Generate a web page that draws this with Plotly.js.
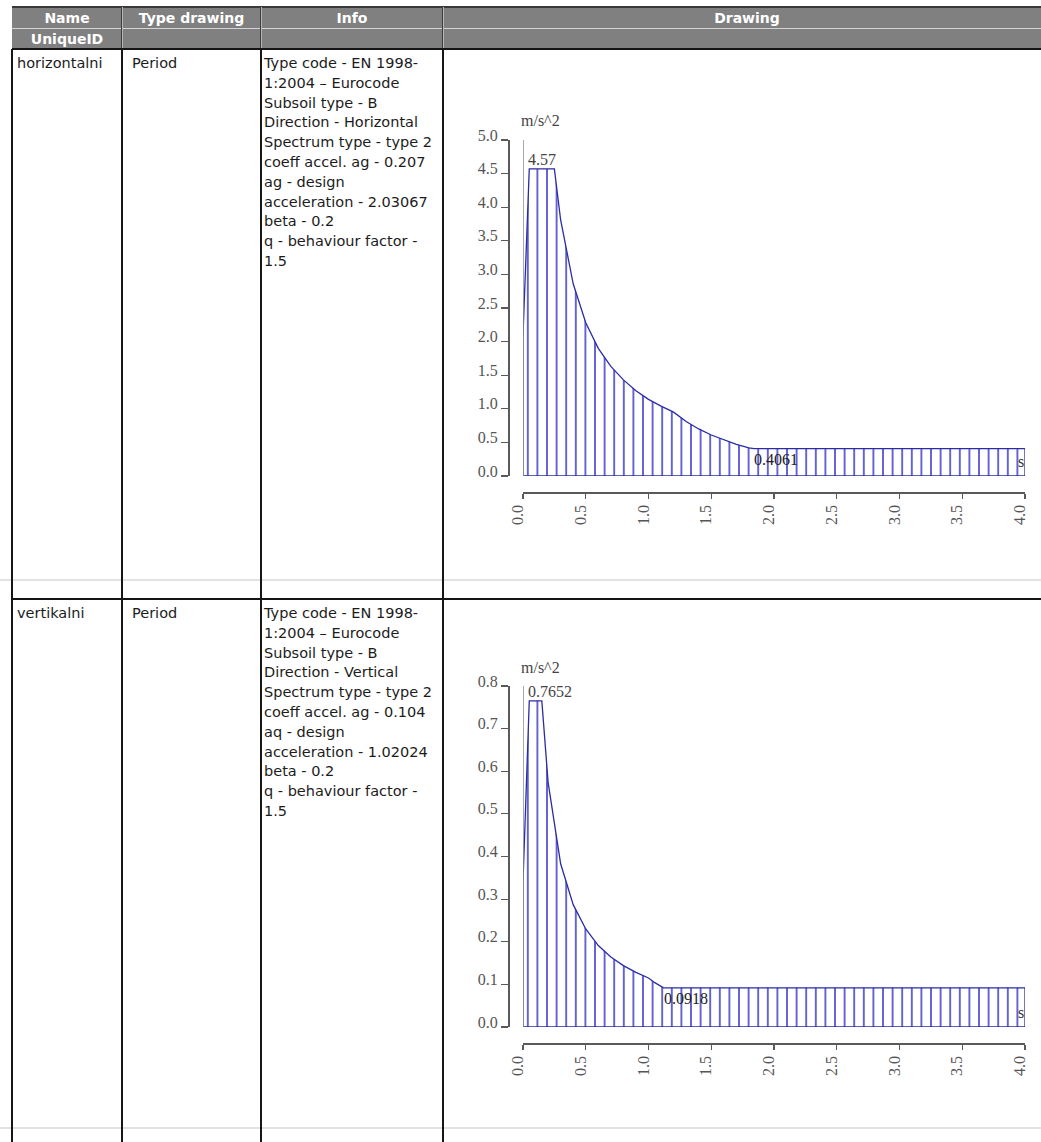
<!DOCTYPE html>
<html>
<head>
<meta charset="utf-8">
<script src="https://cdn.plot.ly/plotly-3.0.1.min.js"></script>
<style>
html,body{margin:0;padding:0;background:#fff;}
#page{position:relative;width:1041px;height:1142px;overflow:hidden;background:#fff;font-family:"DejaVu Sans",Verdana,sans-serif;}
.ln{position:absolute;}
.txt{position:absolute;white-space:nowrap;font-size:14.5px;line-height:20px;color:#1c1c1c;}
.hd{position:absolute;white-space:nowrap;font-size:14px;font-weight:bold;color:#fff;text-align:center;line-height:21px;}
#chart{position:absolute;left:0;top:0;width:1041px;height:1142px;}
</style>
</head>
<body>
<div id="page"><div id="chart"></div></div>
<script>
// ---------------- data ----------------
const headerTop = ["Name", "Type drawing", "Info", "Drawing"];
const headerSub = ["UniqueID", "", "", ""];
const rowNames = ["horizontalni", "vertikalni"];
const rowTypes = ["Period", "Period"];
const infoHorizontal = [
  "Type code - EN 1998-", "1:2004 \u2013 Eurocode", "Subsoil type - B",
  "Direction - Horizontal", "Spectrum type - type 2", "coeff accel. ag - 0.207",
  "ag - design", "acceleration - 2.03067", "beta - 0.2",
  "q - behaviour factor -", "1.5"
];
const infoVertical = [
  "Type code - EN 1998-", "1:2004 \u2013 Eurocode", "Subsoil type - B",
  "Direction - Vertical", "Spectrum type - type 2", "coeff accel. ag - 0.104",
  "aq - design", "acceleration - 1.02024", "beta - 0.2",
  "q - behaviour factor -", "1.5"
];

// horizontal spectrum (period s, acceleration m/s^2)
const periodH = [0, 0.05, 0.25, 0.3, 0.4, 0.5, 0.6, 0.7, 0.8, 0.9, 1.0, 1.1, 1.2, 1.3, 1.4, 1.5, 1.6, 1.7, 1.8, 1.84, 4.0];
const accelH  = [2.10, 4.57, 4.57, 3.81, 2.86, 2.28, 1.90, 1.63, 1.43, 1.27, 1.14, 1.04, 0.95, 0.81, 0.70, 0.61, 0.54, 0.47, 0.42, 0.4061, 0.4061];

// vertical spectrum
const periodV = [0, 0.05, 0.15, 0.2, 0.3, 0.4, 0.5, 0.6, 0.7, 0.8, 0.9, 1.0, 1.05, 1.12, 4.0];
const accelV  = [0.34, 0.7652, 0.7652, 0.574, 0.383, 0.287, 0.230, 0.191, 0.164, 0.144, 0.128, 0.115, 0.104, 0.0918, 0.0918];

const xTickVals = [0, 0.5, 1.0, 1.5, 2.0, 2.5, 3.0, 3.5, 4.0];
const xTickText = ["0.0", "0.5", "1.0", "1.5", "2.0", "2.5", "3.0", "3.5", "4.0"];
const yTickValsH = [0, 0.5, 1.0, 1.5, 2.0, 2.5, 3.0, 3.5, 4.0, 4.5, 5.0];
const yTickTextH = ["0.0", "0.5", "1.0", "1.5", "2.0", "2.5", "3.0", "3.5", "4.0", "4.5", "5.0"];
const yTickValsV = [0, 0.1, 0.2, 0.3, 0.4, 0.5, 0.6, 0.7, 0.8];
const yTickTextV = ["0.0", "0.1", "0.2", "0.3", "0.4", "0.5", "0.6", "0.7", "0.8"];
const unitY = "m/s^2";
const unitX = "s";

// ---------------- table (HTML) ----------------
const page = document.getElementById('page');
const chartDiv = document.getElementById('chart');
function box(x, y, w, h, color) {
  const d = document.createElement('div');
  d.className = 'ln';
  d.style.left = x + 'px'; d.style.top = y + 'px';
  d.style.width = w + 'px'; d.style.height = h + 'px';
  d.style.background = color;
  page.insertBefore(d, chartDiv);
  return d;
}
function text(x, y, str, cls, w) {
  const d = document.createElement('div');
  d.className = cls;
  d.style.left = x + 'px'; d.style.top = y + 'px';
  if (w) d.style.width = w + 'px';
  d.textContent = str;
  page.insertBefore(d, chartDiv);
  return d;
}
const colX = [12, 122, 261, 443, 1051];
const hTop = 7, hMid = 28, hBot = 49;
const rowTops = [49, 599];
const grayLines = [580, 1128];

// header
box(colX[0], hTop, colX[4] - colX[0], hBot - hTop, '#808080');
box(colX[0], hTop - 1, colX[4] - colX[0], 2, '#3a3a3a');
box(colX[0], hMid, colX[4] - colX[0], 1, '#d4d4d4');
for (let i = 1; i < 4; i++) {
  box(colX[i] - 1, hTop, 1, hBot - hTop, '#3c3c3c');
  box(colX[i], hTop, 1, hBot - hTop, '#b8b8b8');
}
headerTop.forEach((t, i) => { text(colX[i], hTop + 1, t, 'hd', colX[i + 1] - colX[i]); });
headerSub.forEach((t, i) => { if (t) text(colX[i], hMid + 1, t, 'hd', colX[i + 1] - colX[i]); });

// body
grayLines.forEach(y => box(0, y - 1, 1041, 2, '#e2e2e2'));
box(colX[0], hBot - 1, colX[4] - colX[0], 2, '#141414');
box(colX[0], rowTops[1] - 1, colX[4] - colX[0], 2, '#141414');
for (let i = 0; i < 4; i++) box(colX[i] - 1, hBot, 2, 1142 - hBot, '#161616');

const infos = [infoHorizontal, infoVertical];
rowTops.forEach((top, r) => {
  text(17, top + 4, rowNames[r], 'txt');
  text(132, top + 4, rowTypes[r], 'txt');
  infos[r].forEach((line, k) => text(264, top + 4 + k * 19.8, line, 'txt'));
});

// ---------------- charts (Plotly) ----------------
const W = 1041, H = 1142;
const fx = px => px / W;
const fy = px => 1 - px / H;
const serif = 'Liberation Serif, Times New Roman, serif';

const charts = [
  {x: periodH, y: accelH, yv: yTickValsH, yt: yTickTextH, yTop: 140, yZero: 476, xAxisY: 492, sfx: ''},
  {x: periodV, y: accelV, yv: yTickValsV, yt: yTickTextV, yTop: 686, yZero: 1027, xAxisY: 1043, sfx: '2'}
];

const data = [];
const layout = {
  width: W, height: H,
  margin: {l: 0, r: 0, t: 0, b: 0},
  paper_bgcolor: 'rgba(0,0,0,0)', plot_bgcolor: 'rgba(0,0,0,0)',
  showlegend: false,
  shapes: [], annotations: []
};

charts.forEach(c => {
  const n = c.x.length;
  const xa = 'x' + c.sfx, ya = 'y' + c.sfx;
  const yMax = c.yv[c.yv.length - 1];
  data.push({
    type: 'scatter', mode: 'lines',
    x: [c.x[0]].concat(c.x, [c.x[n - 1], c.x[0]]),
    y: [0].concat(c.y, [0, 0]),
    fill: 'toself',
    fillcolor: 'rgba(255,255,255,0)',
    fillpattern: {shape: '|', size: 9.6, solidity: 0.16, fgcolor: '#3a3acb', bgcolor: 'rgba(255,255,255,0)'},
    line: {color: '#2c2ca4', width: 1.3},
    xaxis: xa, yaxis: ya, hoverinfo: 'skip'
  });
  layout['xaxis' + c.sfx] = {
    domain: [fx(523), fx(1025)], range: [xTickVals[0], xTickVals[xTickVals.length - 1]],
    anchor: 'free', position: fy(c.xAxisY),
    showline: true, linecolor: '#5a5a5a', linewidth: 1.5,
    ticks: 'outside', ticklen: 5, tickwidth: 1.2, tickcolor: '#5a5a5a',
    tickmode: 'array', tickvals: xTickVals, ticktext: xTickText,
    tickangle: -90, ticklabelshift: -5,
    tickfont: {family: serif, size: 16, color: '#555'},
    showgrid: false, zeroline: false, fixedrange: true
  };
  layout['yaxis' + c.sfx] = {
    domain: [fy(c.yZero), fy(c.yTop)], range: [0, yMax],
    anchor: 'free', position: fx(508),
    showline: true, linecolor: '#5a5a5a', linewidth: 1.5,
    ticks: 'outside', ticklen: 7, tickwidth: 1.2, tickcolor: '#5a5a5a',
    tickmode: 'array', tickvals: c.yv, ticktext: c.yt,
    ticklabelshift: -5,
    tickfont: {family: serif, size: 16, color: '#555'},
    showgrid: false, zeroline: false, fixedrange: true
  };
  layout.shapes.push({
    type: 'line', xref: xa, yref: ya, layer: 'above',
    x0: c.x[0], x1: c.x[0], y0: 0, y1: yMax,
    line: {color: '#8c8c8c', width: 1.5}
  });
  // peak label
  layout.annotations.push({
    xref: xa, yref: ya, x: c.x[1], y: c.y[1], text: String(c.y[1]),
    xanchor: 'left', yanchor: 'bottom', xshift: -3, yshift: -1, showarrow: false,
    font: {family: serif, size: 16, color: '#444'}
  });
  // floor label
  layout.annotations.push({
    xref: xa, yref: ya, x: c.x[n - 2], y: c.y[n - 2], text: String(c.y[n - 2]),
    xanchor: 'left', yanchor: 'top', xshift: -2, yshift: 0, showarrow: false,
    font: {family: serif, size: 16, color: '#222'}
  });
  // x unit
  layout.annotations.push({
    xref: xa, yref: ya, x: c.x[n - 1], y: 0, text: unitX,
    xanchor: 'right', yanchor: 'bottom', xshift: 1, yshift: 4, showarrow: false,
    font: {family: serif, size: 16, color: '#333'}
  });
  // y unit
  layout.annotations.push({
    xref: 'paper', yref: 'paper', x: fx(519), y: fy(c.yTop), text: unitY,
    xanchor: 'left', yanchor: 'middle', yshift: 19, showarrow: false,
    font: {family: serif, size: 16, color: '#444'}
  });
});

Plotly.newPlot('chart', data, layout, {staticPlot: true, displayModeBar: false});
</script>
</body>
</html>
